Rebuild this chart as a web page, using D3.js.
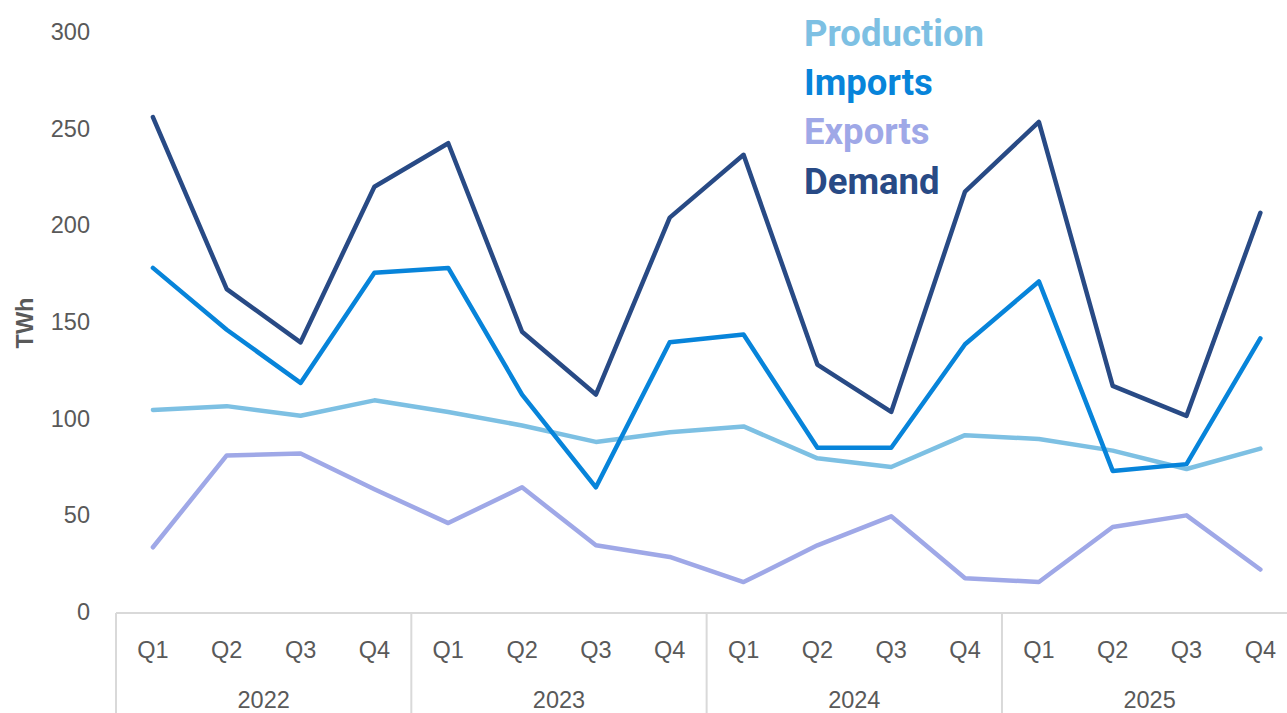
<!DOCTYPE html>
<html>
<head>
<meta charset="utf-8">
<script src="https://cdn.jsdelivr.net/npm/d3@7"></script>
<style>
  html, body { margin: 0; padding: 0; background: #fff; }
  svg { display: block; }
</style>
</head>
<body>
<svg id="chart" width="1287" height="713"></svg>
<script>
const years = ["2022", "2023", "2024", "2025"];
const quarters = ["Q1", "Q2", "Q3", "Q4"];
const yTicks = [0, 50, 100, 150, 200, 250, 300];

const production = [105, 107, 102, 110, 104, 97, 88.5, 93.5, 96.5, 80, 75.5, 92, 90, 84, 74.5, 85];
const imports    = [178.5, 146.5, 119, 176, 178.5, 113, 65, 140, 144, 85.5, 85.5, 139, 171.5, 73.5, 77, 142];
const exports    = [34, 81.5, 82.5, 64, 46.5, 65, 35, 29, 16, 35, 50, 18, 16, 44.5, 50.5, 22.5];
const demand     = [256.5, 167.5, 140, 220.5, 243, 145.5, 113, 204.5, 237, 128.5, 104, 218, 254, 117.5, 102, 207];

const seriesNames  = ["Production", "Imports", "Exports", "Demand"];
const seriesColors = ["#7dc0e3", "#0784da", "#9fa8e7", "#284a85"];
const seriesData   = [production, imports, exports, demand];

const svg = d3.select("#chart");
const categories = [];
years.forEach(y => quarters.forEach(q => categories.push(y + "-" + q)));

const x = d3.scaleBand().domain(categories).range([116, 116 + 16 * 73.83]).padding(0);
const y = d3.scaleLinear().domain([0, 300]).range([613, 33]);
const cx = c => x(c) + x.bandwidth() / 2;

const textColor = "#595959";
const axisColor = "#d9d9d9";
const font = "'Liberation Sans', Arial, sans-serif";
const fs = 23.5;

// Y tick labels
svg.append("g").selectAll("text").data(yTicks).join("text")
  .attr("x", 90).attr("y", d => y(d) - 1)
  .attr("text-anchor", "end").attr("dominant-baseline", "central")
  .attr("font-family", font).attr("font-size", fs).attr("fill", textColor)
  .text(d => d);

// Y axis title
svg.append("text")
  .attr("transform", `translate(33,${y(150)}) rotate(-90)`)
  .attr("text-anchor", "middle")
  .attr("font-family", font).attr("font-size", fs).attr("font-weight", "bold")
  .attr("fill", textColor).text("TWh");

// X axis baseline
svg.append("line")
  .attr("x1", x.range()[0]).attr("x2", x.range()[1])
  .attr("y1", y(0)).attr("y2", y(0))
  .attr("stroke", axisColor).attr("stroke-width", 2);

// Year separators
const sepXs = years.map(yr => x(yr + "-Q1")).concat([x.range()[1]]);
svg.append("g").selectAll("line").data(sepXs).join("line")
  .attr("x1", d => d).attr("x2", d => d)
  .attr("y1", y(0)).attr("y2", 713)
  .attr("stroke", axisColor).attr("stroke-width", 2);

// Quarter labels
svg.append("g").selectAll("text").data(categories).join("text")
  .attr("x", d => cx(d)).attr("y", 650)
  .attr("text-anchor", "middle").attr("dominant-baseline", "central")
  .attr("font-family", font).attr("font-size", fs).attr("fill", textColor)
  .text(d => d.split("-")[1]);

// Year labels
svg.append("g").selectAll("text").data(years).join("text")
  .attr("x", d => (x(d + "-Q1") + x(d + "-Q4") + x.bandwidth()) / 2).attr("y", 700)
  .attr("text-anchor", "middle").attr("dominant-baseline", "central")
  .attr("font-family", font).attr("font-size", fs).attr("fill", textColor)
  .text(d => d);

// Lines
const line = d3.line().x((d, i) => cx(categories[i])).y(d => y(d));
seriesData.forEach((data, k) => {
  svg.append("path").datum(data)
    .attr("d", line)
    .attr("fill", "none")
    .attr("stroke", seriesColors[k])
    .attr("stroke-width", 4.5)
    .attr("stroke-linejoin", "round")
    .attr("stroke-linecap", "round");
});

// Legend
svg.append("g").selectAll("text").data(seriesNames).join("text")
  .attr("x", 804).attr("y", (d, i) => 46 + i * 49.2)
  .attr("font-family", "Roboto, 'Noto Sans', sans-serif")
  .attr("font-size", 36.5).attr("font-weight", "bold")
  .attr("fill", (d, i) => seriesColors[i])
  .text(d => d);
</script>
</body>
</html>
